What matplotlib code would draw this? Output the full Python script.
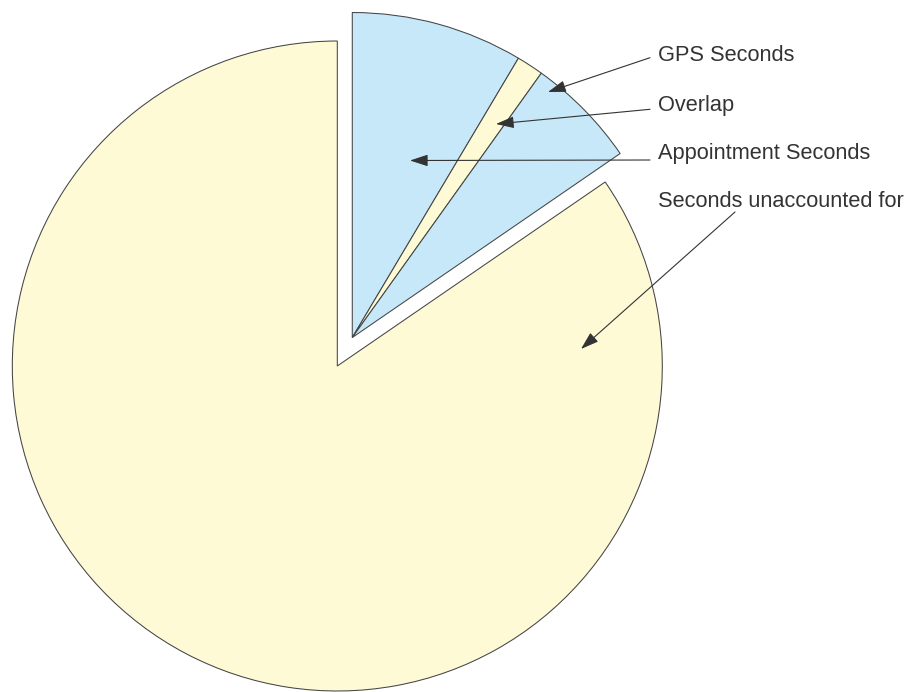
import numpy as np
import matplotlib
matplotlib.use("Agg")
import matplotlib.pyplot as plt

# Share of total seconds (percent)
labels = ["Appointment Seconds", "Overlap", "GPS Seconds", "Seconds unaccounted for"]
values = [8.54, 1.34, 5.54, 84.58]
colors = ["#c7e8f9", "#fffad6", "#c7e8f9", "#fffad6"]
n_exploded = 3  # first three slices are pulled out together

# Figure is 910x692 px, pie radius 325 px
W, H = 910, 692
R_PX = 325.0
CX, CY = 337.3, 366.0


def px(x, y):
    """ pixel (from top-left) -> data units """
    return (x - CX) / R_PX, (CY - y) / R_PX


fig = plt.figure(figsize=(W / 100, H / 100), dpi=100)
ax = fig.add_axes([0, 0, 1, 1])
ax.set_xlim(-CX / R_PX, (W - CX) / R_PX)
ax.set_ylim(-(H - CY) / R_PX, CY / R_PX)
ax.set_aspect("equal")
ax.axis("off")

wedges, _ = ax.pie(values, colors=colors, startangle=90, counterclock=False,
                   radius=1.0, center=(0, 0), frame=True,
                   wedgeprops=dict(edgecolor="#444444", linewidth=0.75))
ax.set_xlim(-CX / R_PX, (W - CX) / R_PX)
ax.set_ylim(-(H - CY) / R_PX, CY / R_PX)
ax.axis("off")

# move the first group of slices out along their common bisector
fracs = np.array(values) / sum(values)
group_mid = np.deg2rad(90 - 360 * fracs[:n_exploded].sum() / 2)
dist = 0.099
off = (dist * np.cos(group_mid), dist * np.sin(group_mid))
for w in wedges[:n_exploded]:
    w.set_center(off)

# labels on the right, with arrows pointing into slices
text_x = 658
baselines = {"GPS Seconds": 61.3, "Overlap": 110.7,
             "Appointment Seconds": 159.3, "Seconds unaccounted for": 207.3}
arrow_start = {"GPS Seconds": (650, 57.7), "Overlap": (650, 109.3),
               "Appointment Seconds": (650, 160.0),
               "Seconds unaccounted for": (735, 212.0)}
arrow_tip = {"GPS Seconds": (548, 92), "Overlap": (496, 124),
             "Appointment Seconds": (410, 160.5),
             "Seconds unaccounted for": (581, 349)}

for lab in labels:
    ax.text(*px(text_x, baselines[lab]), lab, ha="left", va="baseline",
            fontsize=15.7, family=["Liberation Sans", "DejaVu Sans"],
            color="#333333")
    ax.annotate("", xy=px(*arrow_tip[lab]), xytext=px(*arrow_start[lab]),
                arrowprops=dict(arrowstyle="-|>,head_length=1.1,head_width=0.36",
                                color="#333333", lw=0.8,
                                shrinkA=0, shrinkB=0, mutation_scale=10))

fig.savefig("out.png", dpi=100)
